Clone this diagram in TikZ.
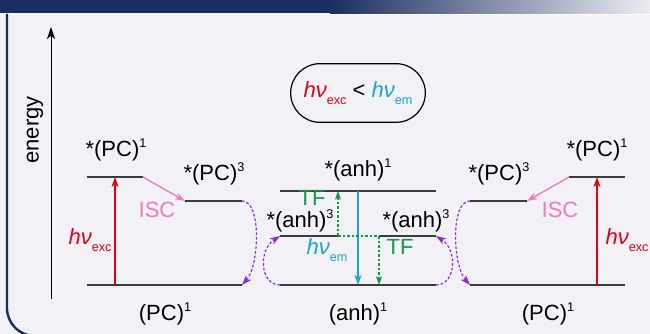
\documentclass[tikz,border=0pt]{standalone}
\usepackage{fontspec}
\setmainfont{Liberation Sans}
\usetikzlibrary{arrows.meta}
\definecolor{navy}{RGB}{27,44,96}
\definecolor{headlight}{RGB}{236,237,242}
\definecolor{panelbg}{RGB}{242,242,246}
\definecolor{levelgray}{RGB}{58,58,64}
\definecolor{excred}{RGB}{226,0,26}
\definecolor{iscpink}{RGB}{240,122,190}
\definecolor{emblue}{RGB}{30,160,226}
\definecolor{tfgreen}{RGB}{24,150,72}
\definecolor{dexviolet}{RGB}{140,42,230}
\newcommand{\upnum}[1]{\raisebox{0.38em}{\fontsize{9.5}{10}\selectfont #1}}
\newcommand{\hnu}[1]{\textit{hν}\raisebox{-0.32em}{\fontsize{9.5}{10}\selectfont #1}}
\tikzset{
  level/.style={draw=levelgray, line width=1.2pt},
  lbl/.style={inner sep=0.75pt, font=\fontsize{16.5}{18}\selectfont},
  photon/.style={line width=0.8pt, -{Stealth[length=7.5pt,width=5.2pt,inset=2pt]}},
  isc/.style={draw=iscpink, line width=1pt, -{Stealth[length=7.5pt,width=5.2pt,inset=2pt]}},
  tf/.style={draw=tfgreen, line width=0.9pt, dash pattern={on 2pt off 1.4pt}},
  dexter/.style={draw=dexviolet, line width=0.9pt, dash pattern={on 2pt off 1.5pt}, -{Stealth[length=7.5pt,width=5.2pt,inset=2pt]}}
}
\begin{document}
\begin{tikzpicture}[x=0.75pt,y=0.75pt,yscale=-1,xscale=1]
\useasboundingbox (0,0) rectangle (650,334);
\fill [panelbg] (0,0) rectangle (650,334);
\fill [navy] (0,0) rectangle (330,13.5);
\shade [left color=navy, right color=headlight] (330,0) rectangle (650,13.5);
\draw [white, line width=0.6pt] (0,14.2) -- (650,14.2);
\draw [navy, line width=1.8pt, rounded corners=21pt] (7,14) -- (7,336) -- (660,336);

\coordinate (axbot) at (51,299);
\coordinate (axtop) at (51,27);
\draw [line width=0.75pt, -{Stealth[length=9pt,width=6pt,inset=2.5pt]}] (axbot) -- (axtop);
\node [lbl, rotate=90] (energy) at (35,130) {energy};

\node [draw, line width=0.9pt, rounded corners=22pt, minimum width=101pt, minimum height=44pt, lbl] (ineq) at (358,93) {\textcolor{excred}{\hnu{exc}} < \textcolor{emblue}{\hnu{em}}};

\coordinate (pcSL1) at (87,177);  \coordinate (pcSL2) at (143,177);
\coordinate (pcTL1) at (185,201); \coordinate (pcTL2) at (242,201);
\coordinate (pcGL1) at (87,285);  \coordinate (pcGL2) at (242,285);
\coordinate (anhS1) at (280,191); \coordinate (anhS2) at (436,191);
\coordinate (anhT1) at (280,236); \coordinate (anhT2) at (436,236);
\coordinate (anhG1) at (280,285); \coordinate (anhG2) at (436,285);
\coordinate (pcSR1) at (569,177); \coordinate (pcSR2) at (625,177);
\coordinate (pcTR1) at (470,201); \coordinate (pcTR2) at (527,201);
\coordinate (pcGR1) at (470,285); \coordinate (pcGR2) at (625,285);
\coordinate (tfa) at (338,236); \coordinate (tfb) at (379,236);
\coordinate (tfaup) at (338,191); \coordinate (tfbdn) at (379,285);
\coordinate (exL0) at (115,285); \coordinate (exL1) at (115,177);
\coordinate (exR0) at (597,285); \coordinate (exR1) at (597,177);
\coordinate (em0) at (358,191); \coordinate (em1) at (358,285);

\draw [level] (pcSL1) -- (pcSL2);
\draw [level] (pcTL1) -- (pcTL2);
\draw [level] (pcGL1) -- (pcGL2);
\draw [level] (anhS1) -- (anhS2);
\draw [level] (anhT1) -- (tfa);
\draw [level] (tfb) -- (anhT2);
\draw [level] (anhG1) -- (anhG2);
\draw [level] (pcSR1) -- (pcSR2);
\draw [level] (pcTR1) -- (pcTR2);
\draw [level] (pcGR1) -- (pcGR2);

\draw [photon, excred] (exL0) -- (exL1);
\draw [photon, excred] (exR0) -- (exR1);
\draw [photon, emblue, line width=1pt] (em0) -- (em1);
\draw [isc] (pcSL2) -- (pcTL1);
\draw [isc] (pcSR1) -- (pcTR2);
\draw [tf] (tfa) -- (tfb);
\draw [tf, -{Stealth[length=6.5pt,width=4.6pt,inset=1.8pt]}] (tfa) -- (tfaup);
\draw [tf, -{Stealth[length=6.5pt,width=4.6pt,inset=1.8pt]}] (tfb) -- (tfbdn);

\draw [dexter] (pcTL2) .. controls +(20,0) and +(17,-19) .. (pcGL2);
\draw [dexter] (anhG1) .. controls +(-20,0) and +(-22,14) .. (anhT1);
\draw [dexter] (pcTR1) .. controls +(-20,0) and +(-17,-19) .. (pcGR1);
\draw [dexter] (anhG2) .. controls +(20,0) and +(22,14) .. (anhT2);

\node [lbl] (pcSLlbl) at (116,150) {*(PC)\upnum{1}};
\node [lbl] (pcTLlbl) at (214,174) {*(PC)\upnum{3}};
\node [lbl, iscpink] (iscL) at (157,210) {ISC};
\node [lbl, excred] (exLlbl) at (90,240) {\hnu{exc}};
\node [lbl] (pcGLlbl) at (165,314) {(PC)\upnum{1}};
\node [lbl] (anhSlbl) at (358,170) {*(anh)\upnum{1}};
\node [lbl, tfgreen] (tfup) at (312,198) {TF};
\node [lbl] (anhTL) at (300,221) {*(anh)\upnum{3}};
\node [lbl] (anhTR) at (416,221) {*(anh)\upnum{3}};
\node [lbl, emblue] (emlbl) at (327,250) {\hnu{em}};
\node [lbl, tfgreen] (tfdn) at (400,247) {TF};
\node [lbl] (anhGlbl) at (358,314) {(anh)\upnum{1}};
\node [lbl] (pcTRlbl) at (499,174) {*(PC)\upnum{3}};
\node [lbl] (pcSRlbl) at (597,150) {*(PC)\upnum{1}};
\node [lbl, iscpink] (iscR) at (560,210) {ISC};
\node [lbl, excred] (exRlbl) at (627,240) {\hnu{exc}};
\node [lbl] (pcGRlbl) at (548,314) {(PC)\upnum{1}};
\end{tikzpicture}
\end{document}
